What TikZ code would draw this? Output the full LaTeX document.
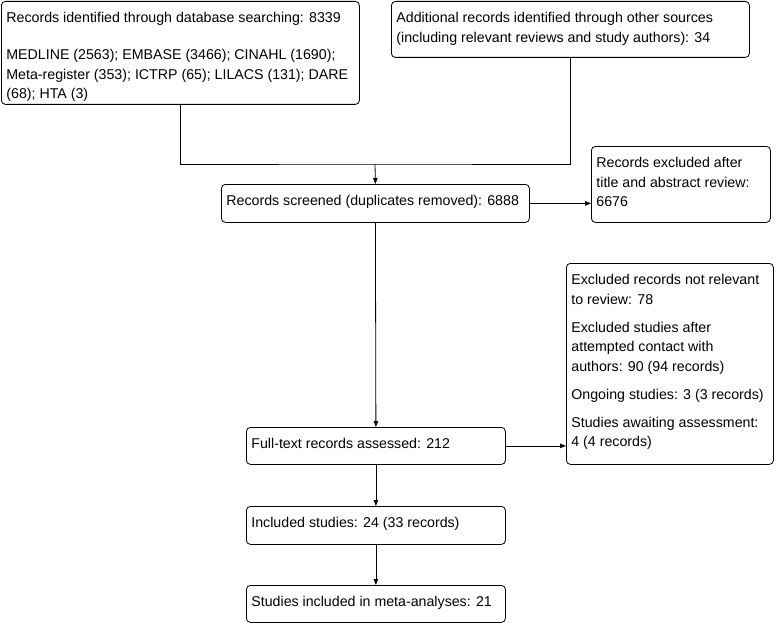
\documentclass[tikz,border=0pt]{standalone}
\usepackage{fontspec}
\setmainfont{Liberation Sans}
\usetikzlibrary{arrows.meta}
\newcommand\txf[1]{\hbox to\hsize{\rule{0pt}{21.5pt}#1\hfil}}
\newcommand\txl[1]{\hbox to\hsize{#1\hfil}}
\newcommand\bx[3]{\parbox[t][#2][t]{#1}{\fontsize{14.2pt}{19.5pt}\selectfont #3}}
\begin{document}
\begin{tikzpicture}[x=1pt,y=-1pt,
  box/.style={draw, line width=0.8pt, rounded corners=4pt, inner xsep=5pt, inner ysep=0pt, anchor=north west},
  arr/.style={line width=0.8pt, -{Triangle[length=6pt,width=4.5pt]}},
  ln/.style={line width=0.8pt}]
\fill[white] (0,0) rectangle (776,623);
\useasboundingbox (0,0) rectangle (776,623);

\node[box] (b1) at (1,1) {\bx{348pt}{103pt}{\txf{Records identified through database searching: 8339}\vskip 17.5pt\txl{MEDLINE (2563); EMBASE (3466); CINAHL (1690);}\txl{Meta-register (353); ICTRP (65); LILACS (131); DARE}\txl{(68); HTA (3)}}};

\node[box] (b2) at (391,1) {\bx{348pt}{56pt}{\txf{Additional records identified through other sources}\txl{(including relevant reviews and study authors): 34}}};

\node[box] (b3) at (221,184) {\bx{298pt}{38pt}{\txf{Records screened (duplicates removed): 6888}}};

\node[box] (b4) at (591,146) {\bx{169pt}{76pt}{\txf{Records excluded after}\txl{title and abstract review:}\txl{6676}}};

\node[box] (b5) at (566,263) {\bx{197pt}{201pt}{\txf{Excluded records not relevant}\txl{to review: 78}\vskip 8.5pt\txl{Excluded studies after}\txl{attempted contact with}\txl{authors: 90 (94 records)}\vskip 8.5pt\txl{Ongoing studies: 3 (3 records)}\vskip 8.5pt\txl{Studies awaiting assessment:}\txl{4 (4 records)}}};

\node[box] (b6) at (246,427) {\bx{249pt}{37pt}{\txf{Full-text records assessed: 212}}};

\node[box] (b7) at (246,506) {\bx{249pt}{38pt}{\txf{Included studies: 24 (33 records)}}};

\node[box] (b8) at (246,585) {\bx{249pt}{37pt}{\txf{Studies included in meta-analyses: 21}}};

\coordinate (j) at (375,164);
\draw[ln] (b1.south) |- (j) -| (b2.south);
\draw[arr] (j) -- (b3.north);
\draw[arr] (b3.east) -- (b4.west |- b3.east);
\draw[arr] (b3.south) -- (b6.north);
\draw[arr] (b6.east) -- (b5.west |- b6.east);
\draw[arr] (b6.south) -- (b7.north);
\draw[arr] (b7.south) -- (b8.north);
\end{tikzpicture}
\end{document}
